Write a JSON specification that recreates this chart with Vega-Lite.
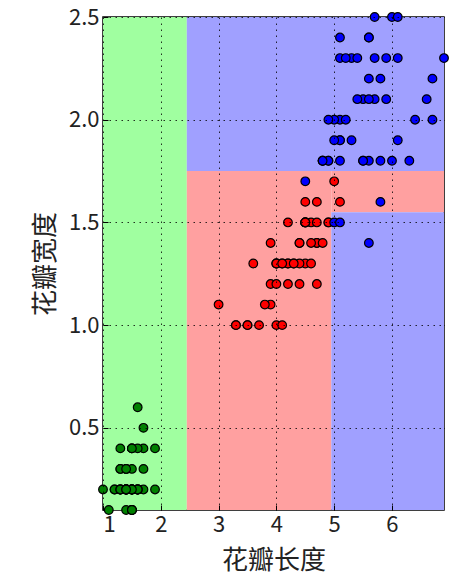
{
  "$schema": "https://vega.github.io/schema/vega-lite/v6.json",
  "autosize": "none",
  "width": 341,
  "height": 493,
  "padding": {"left": 103, "top": 17, "right": 10, "bottom": 69},
  "background": "white",
  "config": {
    "view": {"stroke": "#000", "strokeWidth": 1.5},
    "axis": {"labelFont": "Noto Sans CJK SC", "titleFont": "Noto Sans CJK SC", "labelColor": "#222", "titleColor": "#222", "labelFontSize": 22, "titleFontSize": 26, "titleFontWeight": "normal", "domain": false, "tickColor": "#000", "tickSize": -5, "gridColor": "#000", "gridDash": [1.5, 4.5], "gridOpacity": 0.8, "gridWidth": 1}
  },
  "datasets": {
    "regions": [
      {"x1": 1, "x2": 2.45, "y1": 0.1, "y2": 2.5, "r": "g"},
      {"x1": 2.45, "x2": 6.9, "y1": 1.75, "y2": 2.5, "r": "b"},
      {"x1": 2.45, "x2": 4.95, "y1": 0.1, "y2": 1.75, "r": "r"},
      {"x1": 4.95, "x2": 6.9, "y1": 1.55, "y2": 1.75, "r": "r"},
      {"x1": 4.95, "x2": 6.9, "y1": 0.1, "y2": 1.55, "r": "b"}
    ],
    "iris": [
      {"pl":1.4,"pw":0.2,"c":"setosa"},{"pl":1.4,"pw":0.2,"c":"setosa"},{"pl":1.3,"pw":0.2,"c":"setosa"},{"pl":1.5,"pw":0.2,"c":"setosa"},{"pl":1.4,"pw":0.2,"c":"setosa"},
      {"pl":1.7,"pw":0.4,"c":"setosa"},{"pl":1.4,"pw":0.3,"c":"setosa"},{"pl":1.5,"pw":0.2,"c":"setosa"},{"pl":1.4,"pw":0.2,"c":"setosa"},{"pl":1.5,"pw":0.1,"c":"setosa"},
      {"pl":1.5,"pw":0.2,"c":"setosa"},{"pl":1.6,"pw":0.2,"c":"setosa"},{"pl":1.4,"pw":0.1,"c":"setosa"},{"pl":1.1,"pw":0.1,"c":"setosa"},{"pl":1.2,"pw":0.2,"c":"setosa"},
      {"pl":1.5,"pw":0.4,"c":"setosa"},{"pl":1.3,"pw":0.4,"c":"setosa"},{"pl":1.4,"pw":0.3,"c":"setosa"},{"pl":1.7,"pw":0.3,"c":"setosa"},{"pl":1.5,"pw":0.3,"c":"setosa"},
      {"pl":1.7,"pw":0.2,"c":"setosa"},{"pl":1.5,"pw":0.4,"c":"setosa"},{"pl":1.0,"pw":0.2,"c":"setosa"},{"pl":1.7,"pw":0.5,"c":"setosa"},{"pl":1.9,"pw":0.2,"c":"setosa"},
      {"pl":1.6,"pw":0.2,"c":"setosa"},{"pl":1.6,"pw":0.4,"c":"setosa"},{"pl":1.5,"pw":0.2,"c":"setosa"},{"pl":1.4,"pw":0.2,"c":"setosa"},{"pl":1.6,"pw":0.2,"c":"setosa"},
      {"pl":1.6,"pw":0.2,"c":"setosa"},{"pl":1.5,"pw":0.4,"c":"setosa"},{"pl":1.5,"pw":0.1,"c":"setosa"},{"pl":1.4,"pw":0.2,"c":"setosa"},{"pl":1.5,"pw":0.1,"c":"setosa"},
      {"pl":1.2,"pw":0.2,"c":"setosa"},{"pl":1.3,"pw":0.2,"c":"setosa"},{"pl":1.5,"pw":0.1,"c":"setosa"},{"pl":1.3,"pw":0.2,"c":"setosa"},{"pl":1.5,"pw":0.2,"c":"setosa"},
      {"pl":1.3,"pw":0.3,"c":"setosa"},{"pl":1.3,"pw":0.3,"c":"setosa"},{"pl":1.3,"pw":0.2,"c":"setosa"},{"pl":1.6,"pw":0.6,"c":"setosa"},{"pl":1.9,"pw":0.4,"c":"setosa"},
      {"pl":1.4,"pw":0.3,"c":"setosa"},{"pl":1.6,"pw":0.2,"c":"setosa"},{"pl":1.4,"pw":0.2,"c":"setosa"},{"pl":1.5,"pw":0.2,"c":"setosa"},{"pl":1.4,"pw":0.2,"c":"setosa"},
      {"pl":4.7,"pw":1.4,"c":"versicolor"},{"pl":4.5,"pw":1.5,"c":"versicolor"},{"pl":4.9,"pw":1.5,"c":"versicolor"},{"pl":4.0,"pw":1.3,"c":"versicolor"},{"pl":4.6,"pw":1.5,"c":"versicolor"},
      {"pl":4.5,"pw":1.3,"c":"versicolor"},{"pl":4.7,"pw":1.6,"c":"versicolor"},{"pl":3.3,"pw":1.0,"c":"versicolor"},{"pl":4.6,"pw":1.3,"c":"versicolor"},{"pl":3.9,"pw":1.4,"c":"versicolor"},
      {"pl":3.5,"pw":1.0,"c":"versicolor"},{"pl":4.2,"pw":1.5,"c":"versicolor"},{"pl":4.0,"pw":1.0,"c":"versicolor"},{"pl":4.7,"pw":1.4,"c":"versicolor"},{"pl":3.6,"pw":1.3,"c":"versicolor"},
      {"pl":4.4,"pw":1.4,"c":"versicolor"},{"pl":4.5,"pw":1.5,"c":"versicolor"},{"pl":4.1,"pw":1.0,"c":"versicolor"},{"pl":4.5,"pw":1.5,"c":"versicolor"},{"pl":3.9,"pw":1.1,"c":"versicolor"},
      {"pl":4.8,"pw":1.8,"c":"versicolor"},{"pl":4.0,"pw":1.3,"c":"versicolor"},{"pl":4.9,"pw":1.5,"c":"versicolor"},{"pl":4.7,"pw":1.2,"c":"versicolor"},{"pl":4.3,"pw":1.3,"c":"versicolor"},
      {"pl":4.4,"pw":1.4,"c":"versicolor"},{"pl":4.8,"pw":1.4,"c":"versicolor"},{"pl":5.0,"pw":1.7,"c":"versicolor"},{"pl":4.5,"pw":1.5,"c":"versicolor"},{"pl":3.5,"pw":1.0,"c":"versicolor"},
      {"pl":3.8,"pw":1.1,"c":"versicolor"},{"pl":3.7,"pw":1.0,"c":"versicolor"},{"pl":3.9,"pw":1.2,"c":"versicolor"},{"pl":5.1,"pw":1.6,"c":"versicolor"},{"pl":4.5,"pw":1.5,"c":"versicolor"},
      {"pl":4.5,"pw":1.6,"c":"versicolor"},{"pl":4.7,"pw":1.5,"c":"versicolor"},{"pl":4.4,"pw":1.3,"c":"versicolor"},{"pl":4.1,"pw":1.3,"c":"versicolor"},{"pl":4.0,"pw":1.3,"c":"versicolor"},
      {"pl":4.4,"pw":1.2,"c":"versicolor"},{"pl":4.6,"pw":1.4,"c":"versicolor"},{"pl":4.0,"pw":1.2,"c":"versicolor"},{"pl":3.3,"pw":1.0,"c":"versicolor"},{"pl":4.2,"pw":1.3,"c":"versicolor"},
      {"pl":4.2,"pw":1.2,"c":"versicolor"},{"pl":4.2,"pw":1.3,"c":"versicolor"},{"pl":4.3,"pw":1.3,"c":"versicolor"},{"pl":3.0,"pw":1.1,"c":"versicolor"},{"pl":4.1,"pw":1.3,"c":"versicolor"},
      {"pl":6.0,"pw":2.5,"c":"virginica"},{"pl":5.1,"pw":1.9,"c":"virginica"},{"pl":5.9,"pw":2.1,"c":"virginica"},{"pl":5.6,"pw":1.8,"c":"virginica"},{"pl":5.8,"pw":2.2,"c":"virginica"},
      {"pl":6.6,"pw":2.1,"c":"virginica"},{"pl":4.5,"pw":1.7,"c":"virginica"},{"pl":6.3,"pw":1.8,"c":"virginica"},{"pl":5.8,"pw":1.8,"c":"virginica"},{"pl":6.1,"pw":2.5,"c":"virginica"},
      {"pl":5.1,"pw":2.0,"c":"virginica"},{"pl":5.3,"pw":1.9,"c":"virginica"},{"pl":5.5,"pw":2.1,"c":"virginica"},{"pl":5.0,"pw":2.0,"c":"virginica"},{"pl":5.1,"pw":2.4,"c":"virginica"},
      {"pl":5.3,"pw":2.3,"c":"virginica"},{"pl":5.5,"pw":1.8,"c":"virginica"},{"pl":6.7,"pw":2.2,"c":"virginica"},{"pl":6.9,"pw":2.3,"c":"virginica"},{"pl":5.0,"pw":1.5,"c":"virginica"},
      {"pl":5.7,"pw":2.3,"c":"virginica"},{"pl":4.9,"pw":2.0,"c":"virginica"},{"pl":6.7,"pw":2.0,"c":"virginica"},{"pl":4.9,"pw":1.8,"c":"virginica"},{"pl":5.7,"pw":2.1,"c":"virginica"},
      {"pl":6.0,"pw":1.8,"c":"virginica"},{"pl":4.8,"pw":1.8,"c":"virginica"},{"pl":4.9,"pw":1.8,"c":"virginica"},{"pl":5.6,"pw":2.1,"c":"virginica"},{"pl":5.8,"pw":1.6,"c":"virginica"},
      {"pl":6.1,"pw":1.9,"c":"virginica"},{"pl":6.4,"pw":2.0,"c":"virginica"},{"pl":5.6,"pw":2.2,"c":"virginica"},{"pl":5.1,"pw":1.5,"c":"virginica"},{"pl":5.6,"pw":1.4,"c":"virginica"},
      {"pl":6.1,"pw":2.3,"c":"virginica"},{"pl":5.6,"pw":2.4,"c":"virginica"},{"pl":5.5,"pw":1.8,"c":"virginica"},{"pl":4.8,"pw":1.8,"c":"virginica"},{"pl":5.4,"pw":2.1,"c":"virginica"},
      {"pl":5.6,"pw":2.4,"c":"virginica"},{"pl":5.1,"pw":2.3,"c":"virginica"},{"pl":5.1,"pw":1.9,"c":"virginica"},{"pl":5.9,"pw":2.3,"c":"virginica"},{"pl":5.7,"pw":2.5,"c":"virginica"},
      {"pl":5.2,"pw":2.3,"c":"virginica"},{"pl":5.0,"pw":1.9,"c":"virginica"},{"pl":5.2,"pw":2.0,"c":"virginica"},{"pl":5.4,"pw":2.3,"c":"virginica"},{"pl":5.1,"pw":1.8,"c":"virginica"}
    ]
  },
  "layer": [
    {
      "data": {"name": "regions"},
      "mark": {"type": "rect", "strokeWidth": 0},
      "encoding": {
        "x": {"field": "x1", "type": "quantitative", "scale": {"domain": [1, 6.9], "nice": false, "zero": false},
              "axis": {"orient": "top", "values": [1, 2, 3, 4, 5, 6], "labels": false, "title": null, "grid": false}},
        "x2": {"field": "x2"},
        "y": {"field": "y1", "type": "quantitative", "scale": {"domain": [0.1, 2.5], "nice": false, "zero": false},
              "axis": {"orient": "right", "values": [0.5, 1.0, 1.5, 2.0, 2.5], "labels": false, "title": null, "grid": false}},
        "y2": {"field": "y2"},
        "fill": {"field": "r", "type": "nominal", "scale": {"domain": ["r", "g", "b"], "range": ["#FFA0A0", "#A0FFA0", "#A0A0FF"]}, "legend": null}
      }
    },
    {
      "data": {"name": "iris"},
      "mark": {"type": "point", "filled": true, "size": 75, "stroke": "#000", "strokeWidth": 1.2, "opacity": 1},
      "encoding": {
        "x": {"field": "pl", "type": "quantitative",
              "axis": {"orient": "bottom", "values": [1, 2, 3, 4, 5, 6], "title": "花瓣长度", "grid": true, "labelPadding": 9, "titlePadding": 12, "zindex": 1}},
        "y": {"field": "pw", "type": "quantitative",
              "axis": {"orient": "left", "values": [0.5, 1.0, 1.5, 2.0, 2.5], "format": ".1f", "title": "花瓣宽度", "grid": true, "labelPadding": 9, "titlePadding": 10, "zindex": 1}},
        "fill": {"field": "c", "type": "nominal", "scale": {"domain": ["setosa", "versicolor", "virginica"], "range": ["#008000", "#FF0000", "#0000FF"]}, "legend": null}
      }
    }
  ],
  "resolve": {"axis": {"x": "independent", "y": "independent"}, "scale": {"fill": "independent"}}
}
